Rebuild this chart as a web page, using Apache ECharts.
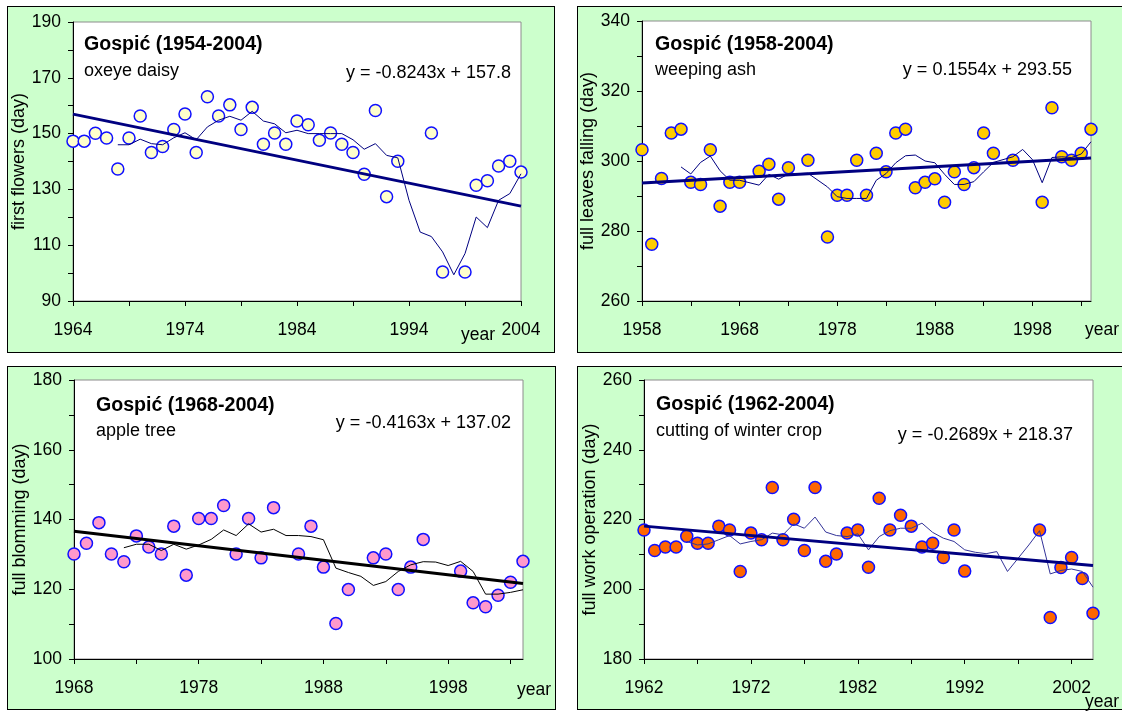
<!DOCTYPE html>
<html><head><meta charset="utf-8">
<script src="https://cdn.jsdelivr.net/npm/echarts@6/dist/echarts.min.js"></script>
<style>
html,body{margin:0;padding:0;background:#fff;}
#wrap{position:relative;width:1122px;height:711px;overflow:hidden;}
.panel{position:absolute;background:#CCFFCC;border:1px solid #000;box-sizing:border-box;}
#chart{position:absolute;left:0;top:0;width:1122px;height:711px;}
</style></head><body>
<div id="wrap">
<div class="panel" style="left:7px;top:6px;width:548px;height:347px"></div>
<div class="panel" style="left:577px;top:6px;width:547px;height:347px"></div>
<div class="panel" style="left:7px;top:366px;width:549px;height:344px"></div>
<div class="panel" style="left:577px;top:366px;width:547px;height:344px"></div>
<div id="chart"></div>
</div>
<script>
// ---------- Panel 1: oxeye daisy ----------
var years1 = [1964,1965,1966,1967,1968,1969,1970,1971,1972,1973,1974,1975,1976,1977,1978,1979,1980,1981,1982,1983,1984,1985,1986,1987,1988,1989,1990,1991,1992,1993,1996,1997,1999,2000,2001,2002,2003,2004];
var values1 = [147.3,147.3,150.1,148.4,137.3,148.4,156.3,143.2,145.4,151.5,157.0,143.2,163.2,156.3,160.3,151.5,159.4,146.2,150.2,146.2,154.5,153.2,147.6,150.2,146.2,143.2,135.4,158.3,127.4,140.1,150.2,100.4,100.4,131.5,133.1,138.4,140.1,136.2];
var maYears1 = [1968,1969,1970,1971,1972,1973,1974,1975,1976,1977,1978,1979,1980,1981,1982,1983,1984,1985,1986,1987,1988,1989,1990,1991,1992,1993,1994,1995,1996,1997,1998,1999,2000,2001,2002,2003,2004];
var maValues1 = [146.0,146.0,148.0,146.4,146.0,148.5,150.3,147.8,152.4,154.8,156.2,154.8,158.0,154.5,153.5,150.3,151.2,150.0,150.0,150.0,150.0,147.8,144.4,146.4,142.2,141.3,126.1,114.7,113.1,107.6,99.4,107.0,120.1,116.3,126.1,128.5,135.6];
var trendYears1 = [1964,2004];
var trendValues1 = [156.98,124.0];
var xTicks1 = [1964,1969,1974,1979,1984,1989,1994,1999,2004];
var xLabels1 = [1964,1974,1984,1994,2004];
var yTicks1 = [90,100,110,120,130,140,150,160,170,180,190];
var yLabels1 = [90,110,130,150,170,190];

// ---------- Panel 2: weeping ash ----------
var years2 = [1958,1959,1960,1961,1962,1963,1964,1965,1966,1967,1968,1970,1971,1972,1973,1975,1977,1978,1979,1980,1981,1982,1983,1984,1985,1986,1987,1988,1989,1990,1991,1992,1993,1994,1996,1999,2000,2001,2002,2003,2004];
var values2 = [303.2,276.2,295.0,308.0,309.1,293.9,293.3,303.2,287.1,293.9,293.9,297.1,299.1,289.1,298.1,300.2,278.3,290.2,290.2,300.2,290.2,302.2,296.9,308.0,309.1,292.35,293.9,294.9,288.2,296.9,293.3,298.1,308.0,302.2,300.2,288.2,315.2,301.2,300.2,302.2,309.1];
var maYears2 = [1962,1963,1964,1965,1966,1967,1968,1970,1971,1972,1973,1975,1977,1978,1979,1980,1981,1982,1983,1984,1985,1986,1987,1988,1989,1990,1991,1992,1993,1994,1996,1997,1998,1999,2000,2001,2002,2003,2004];
var maValues2 = [298.3,296.3,299.6,301.4,297.2,294.5,294.5,293.1,296.2,294.8,296.3,296.5,292.6,289.8,289.3,289.3,289.3,294.5,296.4,299.5,301.5,301.7,300.0,299.5,296.2,293.3,293.3,294.1,296.9,299.6,301.2,303.3,300.4,293.8,301.0,301.2,301.0,302.0,305.5];
var trendYears2 = [1958,2004];
var trendValues2 = [293.71,300.85];
var xTicks2 = [1958,1963,1968,1973,1978,1983,1988,1993,1998,2003];
var xLabels2 = [1958,1968,1978,1988,1998];
var yTicks2 = [260,270,280,290,300,310,320,330,340];
var yLabels2 = [260,280,300,320,340];

// ---------- Panel 3: apple tree ----------
var years3 = [1968,1969,1970,1971,1972,1973,1974,1975,1976,1977,1978,1979,1980,1981,1982,1983,1984,1986,1987,1988,1989,1990,1992,1993,1994,1995,1996,1999,2000,2001,2002,2003,2004];
var values3 = [130.1,133.2,139.1,130.1,127.9,135.3,132.1,130.1,138.1,124.05,140.3,140.3,144.0,130.1,140.3,129.0,143.4,130.1,138.1,126.35,110.2,119.9,129.0,130.1,119.9,126.35,134.3,125.2,116.1,115.0,118.3,122.0,128.0];
var maYears3 = [1972,1973,1974,1975,1976,1977,1978,1979,1980,1981,1982,1983,1984,1985,1986,1987,1988,1989,1990,1991,1992,1993,1994,1995,1996,1997,1998,1999,2000,2001,2002,2003,2004];
var maValues3 = [131.9,132.9,132.9,131.1,132.9,131.5,132.7,134.3,137.0,135.4,138.75,136.4,137.2,135.4,135.4,135.1,134.2,126.05,124.8,123.7,121.1,122.2,125.1,127.0,127.9,127.8,126.8,128.0,125.1,118.6,118.6,119.1,119.85];
var trendYears3 = [1968,2004];
var trendValues3 = [136.60,121.62];
var xTicks3 = [1968,1973,1978,1983,1988,1993,1998,2003];
var xLabels3 = [1968,1978,1988,1998];
var yTicks3 = [100,110,120,130,140,150,160,170,180];
var yLabels3 = [100,120,140,160,180];

// ---------- Panel 4: cutting of winter crop ----------
var years4 = [1962,1963,1964,1965,1966,1967,1968,1969,1970,1971,1972,1973,1974,1975,1976,1977,1978,1979,1980,1981,1982,1983,1984,1985,1986,1987,1988,1989,1990,1991,1992,1999,2000,2001,2002,2003,2004];
var values4 = [217.0,211.1,212.1,212.1,215.2,213.2,213.2,218.1,217.0,205.1,216.1,214.2,229.2,214.2,220.1,211.1,229.2,208.0,210.1,216.1,217.0,206.3,226.1,217.0,221.2,218.1,212.1,213.2,209.1,217.0,205.2,217.0,191.9,206.25,209.1,203.1,193.1];
var maYears4 = [1966,1967,1968,1969,1970,1971,1972,1973,1974,1975,1976,1977,1978,1979,1980,1981,1982,1983,1984,1985,1986,1987,1988,1989,1990,1991,1992,1993,1994,1995,1996,1997,1998,1999,2000,2001,2002,2003,2004];
var maValues4 = [213.7,212.7,213.0,214.2,215.4,213.0,213.7,214.2,216.1,215.6,218.75,217.5,220.7,216.4,215.4,215.1,215.9,211.3,215.1,216.8,217.5,217.5,218.95,216.3,214.65,213.7,211.3,210.6,210.2,210.8,205.1,208.9,212.7,216.8,204.4,205.4,205.8,205.1,200.6];
var trendYears4 = [1962,2004];
var trendValues4 = [218.10,206.81];
var xTicks4 = [1962,1967,1972,1977,1982,1987,1992,1997,2002];
var xLabels4 = [1962,1972,1982,1992,2002];
var yTicks4 = [180,190,200,210,220,230,240,250,260];
var yLabels4 = [180,200,220,240,260];

var FONT = "'Liberation Sans', Arial, sans-serif";

function zip(a, b) { return a.map(function (v, i) { return [v, b[i]]; }); }
function plain(v) { return String(v); }

var panels = [
  {grid:{left:73,top:22,width:448,height:279}, xr:[1964,2004], yr:[90,190], xt:xTicks1, xl:xLabels1, yt:yTicks1, yl:yLabels1,
   yname:'first flowers (day)', pts:zip(years1,values1), ma:zip(maYears1,maValues1), tr:zip(trendYears1,trendValues1),
   fill:'#FFFFCC', trendColor:'#000080', maColor:'#000080'},
  {grid:{left:642,top:21,width:449,height:280}, xr:[1958,2004], yr:[260,340], xt:xTicks2, xl:xLabels2, yt:yTicks2, yl:yLabels2,
   yname:'full leaves falling (day)', pts:zip(years2,values2), ma:zip(maYears2,maValues2), tr:zip(trendYears2,trendValues2),
   fill:'#FFCC00', trendColor:'#000080', maColor:'#000080'},
  {grid:{left:74,top:380,width:449,height:279}, xr:[1968,2004], yr:[100,180], xt:xTicks3, xl:xLabels3, yt:yTicks3, yl:yLabels3,
   yname:'full blomming (day)', pts:zip(years3,values3), ma:zip(maYears3,maValues3), tr:zip(trendYears3,trendValues3),
   fill:'#FF99CC', trendColor:'#000000', maColor:'#000000'},
  {grid:{left:644,top:380,width:449,height:279}, xr:[1962,2004], yr:[180,260], xt:xTicks4, xl:xLabels4, yt:yTicks4, yl:yLabels4,
   yname:'full work operation (day)', pts:zip(years4,values4), ma:zip(maYears4,maValues4), tr:zip(trendYears4,trendValues4),
   fill:'#FF6600', trendColor:'#000080', maColor:'#333399'}
];

var grids = [], xAxes = [], yAxes = [], series = [];
panels.forEach(function (p, i) {
  grids.push({left:p.grid.left, top:p.grid.top, width:p.grid.width, height:p.grid.height,
    show:true, backgroundColor:'#ffffff', borderColor:'#8c8c8c', borderWidth:1});
  xAxes.push({type:'value', gridIndex:i, min:p.xr[0], max:p.xr[1],
    axisLine:{show:true, onZero:false, lineStyle:{color:'#000', width:1}},
    axisTick:{show:true, inside:false, length:5, customValues:p.xt, lineStyle:{color:'#000'}},
    axisLabel:{customValues:p.xl, formatter:plain, margin:20, fontSize:17.5, color:'#000', fontFamily:FONT},
    splitLine:{show:false}});
  yAxes.push({type:'value', gridIndex:i, min:p.yr[0], max:p.yr[1],
    name:p.yname, nameLocation:'middle', nameGap:40,
    nameTextStyle:{fontSize:18, color:'#000', fontFamily:FONT},
    axisLine:{show:true, onZero:false, lineStyle:{color:'#000', width:1}},
    axisTick:{show:true, inside:false, length:5, customValues:p.yt, lineStyle:{color:'#000'}},
    axisLabel:{customValues:p.yl, formatter:plain, margin:12, fontSize:17.5, color:'#000', fontFamily:FONT},
    splitLine:{show:false}});
  series.push({type:'scatter', xAxisIndex:i, yAxisIndex:i, data:p.pts, symbol:'circle', symbolSize:12,
    itemStyle:{color:p.fill, borderColor:'#1010ff', borderWidth:1.5, opacity:1}, z:2, silent:true});
  series.push({type:'line', xAxisIndex:i, yAxisIndex:i, data:p.ma, showSymbol:false, symbol:'none',
    lineStyle:{color:p.maColor, width:1}, z:3, silent:true});
  series.push({type:'line', xAxisIndex:i, yAxisIndex:i, data:p.tr, showSymbol:false, symbol:'none',
    lineStyle:{color:p.trendColor, width:3}, z:4, silent:true});
});

function txt(x, y, s, size, bold, align) {
  return {type:'text', x:x, y:y, z:100, silent:true,
    style:{text:s, fill:'#000', font:(bold ? 'bold ' : '') + size + 'px ' + FONT,
      textAlign:align || 'left', textVerticalAlign:'middle', align:align || 'left', verticalAlign:'middle'}};
}

var graphics = [
  txt(84, 45, 'Gospić (1954-2004)', 19.6, true),
  txt(84, 71, 'oxeye daisy', 18, false),
  txt(511, 73, 'y = -0.8243x + 157.8', 18, false, 'right'),
  txt(478, 335, 'year', 17.5, false, 'center'),

  txt(655, 45, 'Gospić (1958-2004)', 19.6, true),
  txt(655, 70, 'weeping ash', 18, false),
  txt(1072, 70, 'y = 0.1554x + 293.55', 18, false, 'right'),
  txt(1102, 330, 'year', 17.5, false, 'center'),

  txt(96, 406, 'Gospić (1968-2004)', 19.6, true),
  txt(96, 431, 'apple tree', 18, false),
  txt(511, 423, 'y = -0.4163x + 137.02', 18, false, 'right'),
  txt(534, 690, 'year', 17.5, false, 'center'),

  txt(656, 405, 'Gospić (1962-2004)', 19.6, true),
  txt(656, 431, 'cutting of winter crop', 18, false),
  txt(1073, 435, 'y = -0.2689x + 218.37', 18, false, 'right'),
  txt(1102, 702, 'year', 17.5, false, 'center')
];

var chart = echarts.init(document.getElementById('chart'), null, {renderer:'canvas'});
chart.setOption({
  backgroundColor:'transparent',
  animation:false,
  textStyle:{fontFamily:FONT},
  grid:grids, xAxis:xAxes, yAxis:yAxes, series:series, graphic:graphics
});
</script>
</body></html>
